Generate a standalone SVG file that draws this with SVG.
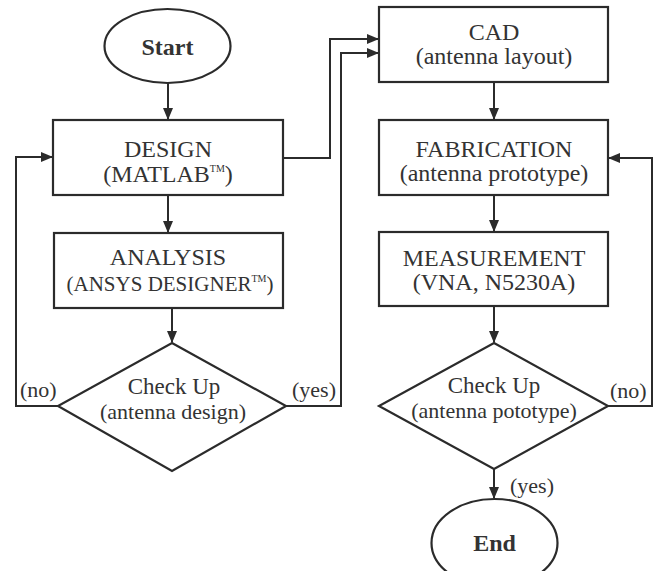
<svg xmlns="http://www.w3.org/2000/svg" width="659" height="571" viewBox="0 0 659 571">
<defs>
<marker id="ah" markerUnits="userSpaceOnUse" markerWidth="12" markerHeight="10" refX="11" refY="5" orient="auto">
<path d="M0,0 L12,5 L0,10 Z" fill="#2b2b2b"/>
</marker>
<style>
.shape{fill:#fff;stroke:#2b2b2b;stroke-width:2.2}
.conn{fill:none;stroke:#2b2b2b;stroke-width:2}
.t{font-family:"Liberation Serif","Times New Roman",serif;font-size:24px;fill:#333;text-anchor:middle}
.b{font-weight:bold}
.c{font-size:23px}
.s{font-size:22px}
.a{font-size:21px}
.tm{font-size:10px}
.l{font-family:"Liberation Serif","Times New Roman",serif;font-size:22px;fill:#333}
</style>
</defs>
<rect width="659" height="571" fill="#fff"/>
<g id="connectors">
<path class="conn" d="M168,83 V119" marker-end="url(#ah)"/>
<path class="conn" d="M168,195 V232" marker-end="url(#ah)"/>
<path class="conn" d="M172,308 V342" marker-end="url(#ah)"/>
<path class="conn" d="M58,406 H16 V157 H52" marker-end="url(#ah)"/>
<path class="conn" d="M283,158 H330 V39 H378" marker-end="url(#ah)"/>
<path class="conn" d="M286,406 H341 V53 H378" marker-end="url(#ah)"/>
<path class="conn" d="M494,82 V119" marker-end="url(#ah)"/>
<path class="conn" d="M494,195 V231" marker-end="url(#ah)"/>
<path class="conn" d="M494,306 V342" marker-end="url(#ah)"/>
<path class="conn" d="M608,406 H652 V158 H609" marker-end="url(#ah)"/>
<path class="conn" d="M494,469 V498" marker-end="url(#ah)"/>
<text class="l" x="20" y="397">(no)</text>
<text class="l" x="292" y="397">(yes)</text>
<text class="l" x="610" y="398">(no)</text>
<text class="l" x="510" y="493">(yes)</text>
</g>
<g id="start">
<ellipse class="shape" cx="167.5" cy="46" rx="63" ry="37"/>
<text class="t b" x="167.5" y="55">Start</text>
</g>
<g id="design">
<rect class="shape" x="53" y="120" width="230" height="75"/>
<text class="t" x="168" y="157">DESIGN</text>
<text class="t" x="168" y="182">(MATLAB<tspan class="tm" dy="-10">TM</tspan><tspan dy="10">)</tspan></text>
</g>
<g id="analysis">
<rect class="shape" x="54" y="233" width="229" height="75"/>
<text class="t" x="168" y="265">ANALYSIS</text>
<text class="t a" x="170" y="291">(ANSYS DESIGNER<tspan class="tm" dy="-9">TM</tspan><tspan dy="9">)</tspan></text>
</g>
<g id="check1">
<polygon class="shape" points="172,343 286,406 172,471 58,406"/>
<text class="t c" x="174" y="394">Check Up</text>
<text class="t s" x="173" y="419">(antenna design)</text>
</g>
<g id="cad">
<rect class="shape" x="379" y="7" width="229" height="75"/>
<text class="t" x="494" y="40">CAD</text>
<text class="t" x="494" y="64">(antenna layout)</text>
</g>
<g id="fabrication">
<rect class="shape" x="379" y="120" width="229" height="75"/>
<text class="t" x="494" y="157">FABRICATION</text>
<text class="t" x="494" y="181">(antenna prototype)</text>
</g>
<g id="measurement">
<rect class="shape" x="379" y="232" width="229" height="74"/>
<text class="t" x="494" y="266">MEASUREMENT</text>
<text class="t" x="494" y="290">(VNA, N5230A)</text>
</g>
<g id="check2">
<polygon class="shape" points="494,343 608,406 494,469 379,406"/>
<text class="t c" x="494" y="393">Check Up</text>
<text class="t s" x="494" y="418">(antenna pototype)</text>
</g>
<g id="end">
<ellipse class="shape" cx="494.5" cy="543" rx="63" ry="44"/>
<text class="t b" x="494.5" y="551">End</text>
</g>
</svg>
